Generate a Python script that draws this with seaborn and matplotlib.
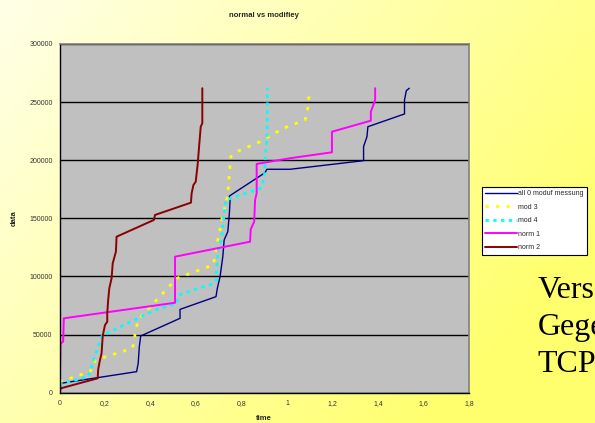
import numpy as np
import pandas as pd
import matplotlib
matplotlib.use("Agg")
import matplotlib.pyplot as plt
import matplotlib.ticker as mticker
import seaborn as sns

# %%
# values (time, data) for each series

all0_t = [0, 0.006, 0.339, 0.346, 0.351, 0.357, 0.53, 0.53, 0.688, 0.694, 0.706, 0.718,
          0.724, 0.74, 0.747, 0.75, 0.747, 0.904, 0.912, 1.014, 1.337, 1.337, 1.352,
          1.356, 1.517, 1.517, 1.525, 1.538]
all0_v = [0, 8100, 18100, 25300, 39600, 48800, 64000, 71700, 82600, 89800, 99800, 117000,
          131400, 138500, 154300, 165800, 169200, 189300, 192200, 192200, 199600, 211700,
          220300, 228800, 239800, 251800, 259800, 261900]

mod3_t = [0, 0.002, 0.134, 0.159, 0.32, 0.329, 0.332, 0.346, 0.515, 0.677, 0.691, 0.703,
          0.713, 0.728, 0.74, 0.746, 0.753, 0.779, 0.882, 0.985, 1.08, 1.088, 1.095, 1.098]
mod3_v = [0, 9500, 18100, 28100, 38200, 43900, 50500, 62500, 98400, 109900, 127100, 137100,
          148600, 160000, 170100, 185800, 203000, 207300, 215900, 227500, 234600, 240400,
          248900, 258900]

mod4_t = [0, 0.002, 0.126, 0.185, 0.192, 0.42, 0.515, 0.526, 0.61, 0.662, 0.687, 0.691,
          0.696, 0.702, 0.713, 0.724, 0.732, 0.882, 0.901, 0.904, 0.912, 0.914, 0.914]
mod4_v = [0, 7200, 13800, 48200, 49600, 71100, 76900, 84000, 89800, 92700, 95500, 107000,
          118500, 127100, 132000, 154300, 165800, 175800, 184500, 200200, 218900, 240400,
          261900]

norm1_t = [0, 0.005, 0.016, 0.019, 0.508, 0.508, 0.838, 0.841, 0.856, 0.86, 0.867, 0.867,
           1.014, 1.198, 1.198, 1.369, 1.369, 1.384, 1.388, 1.388]
norm1_v = [0, 42500, 43900, 64000, 77400, 117000, 129900, 140600, 147100, 165800, 171500,
           196800, 201700, 206800, 224500, 234000, 241700, 249500, 252400, 261900]

norm2_t = [0, 0.006, 0.168, 0.17, 0.178, 0.185, 0.19, 0.2, 0.21, 0.21, 0.214, 0.219, 0.229,
           0.234, 0.248, 0.251, 0.415, 0.42, 0.578, 0.581, 0.589, 0.599, 0.608, 0.615,
           0.621, 0.628, 0.628]
norm2_v = [0, 3800, 12400, 20000, 28100, 33900, 48800, 58200, 61100, 68300, 79700, 89800,
           98400, 111300, 121300, 134200, 148600, 152900, 163500, 171500, 178700, 181500,
           197400, 214600, 228800, 231800, 261900]

series_names = ["all 0 moduf messung", "mod 3", "mod 4", "norm 1", "norm 2"]
series_t = [all0_t, mod3_t, mod4_t, norm1_t, norm2_t]
series_v = [all0_v, mod3_v, mod4_v, norm1_v, norm2_v]

x_ticks = [0, 0.2, 0.4, 0.6, 0.8, 1.0, 1.2, 1.4, 1.6, 1.8]
y_ticks = [0, 50000, 100000, 150000, 200000, 250000, 300000]

colors = {"all 0 moduf messung": "#000080", "mod 3": "#FFFF00", "mod 4": "#00FFFF",
          "norm 1": "#FF00FF", "norm 2": "#8B0000"}
styles = {"all 0 moduf messung": dict(lw=1.0, ls="-"),
          "mod 3": dict(lw=2.0, ls=(0, (1.2, 2.6))),
          "mod 4": dict(lw=2.0, ls=(0, (1.2, 1.6))),
          "norm 1": dict(lw=1.4, ls="-"),
          "norm 2": dict(lw=1.4, ls="-")}

# %%
sns.set_style("white")
plt.rcParams["font.family"] = ["Liberation Sans", "DejaVu Sans"]

fig = plt.figure(figsize=(5.95, 4.23), dpi=100)

# yellow gradient background
bg = fig.add_axes([0, 0, 1, 1], zorder=-10)
gx, gy = np.meshgrid(np.linspace(0, 1, 200), np.linspace(0, 1, 200))
w = np.clip(0.75 * gx + 0.45 * gy, 0, 1)
top = np.array([255, 255, 232]) / 255
bot = np.array([255, 255, 110]) / 255
img = top[None, None, :] * (1 - w[..., None]) + bot[None, None, :] * w[..., None]
bg.imshow(img, aspect="auto", extent=[0, 1, 0, 1], origin="upper")
bg.axis("off")

ax = fig.add_axes([0.1, 0.0716, 0.688, 0.8245])
ax.set_facecolor("#C0C0C0")

for name, t, v in zip(series_names, series_t, series_v):
    df = pd.DataFrame({"time": t, "data": v})
    sns.lineplot(data=df, x="time", y="data", sort=False, estimator=None, ax=ax,
                 color=colors[name], label=name, **styles[name])

ax.set_xlim(0, 1.8)
ax.set_ylim(0, 300000)
ax.set_xticks(x_ticks)
ax.set_yticks(y_ticks)
ax.xaxis.set_major_formatter(mticker.FuncFormatter(
    lambda x, p: "0" if x == 0 else ("1" if x == 1 else f"{x:g}".replace(".", ","))))
ax.yaxis.set_major_formatter(mticker.FuncFormatter(lambda y, p: f"{int(y)}"))
ax.tick_params(axis="both", labelsize=5, length=3, width=0.8, direction="out", pad=2,
               colors="black")
ax.tick_params(axis="both", labelcolor="#333333")
ax.grid(axis="y", color="black", lw=1.0)
ax.set_axisbelow(True)
for s in ["top", "right"]:
    ax.spines[s].set_color("#808080")
    ax.spines[s].set_linewidth(1.2)
for s in ["left", "bottom"]:
    ax.spines[s].set_color("black")
    ax.spines[s].set_linewidth(1.0)

ax.set_xlabel("time", fontsize=5.5, fontweight="bold", labelpad=6)
ax.set_ylabel("data", fontsize=5.5, fontweight="bold", labelpad=8)
ax.set_title("normal vs modifiey", fontsize=5.5, fontweight="bold", pad=19.5)

leg = ax.legend(loc="upper left", bbox_to_anchor=(0.81, 0.558), bbox_transform=fig.transFigure,
                fontsize=5, frameon=True, fancybox=False, handlelength=4.6, handletextpad=0.2,
                borderpad=0.45, labelspacing=0.95, borderaxespad=0)
leg.get_frame().set_edgecolor("black")
leg.get_frame().set_linewidth(0.8)
leg.get_frame().set_facecolor("white")
leg.get_frame().set_alpha(1)

for txt, yy in zip(["Vers", "Gege", "TCP"], [0.295, 0.208, 0.121]):
    fig.text(0.903, yy, txt, fontsize=23, family="Liberation Serif", color="black",
             va="baseline", ha="left")

plt.savefig("out.png", dpi=100)
